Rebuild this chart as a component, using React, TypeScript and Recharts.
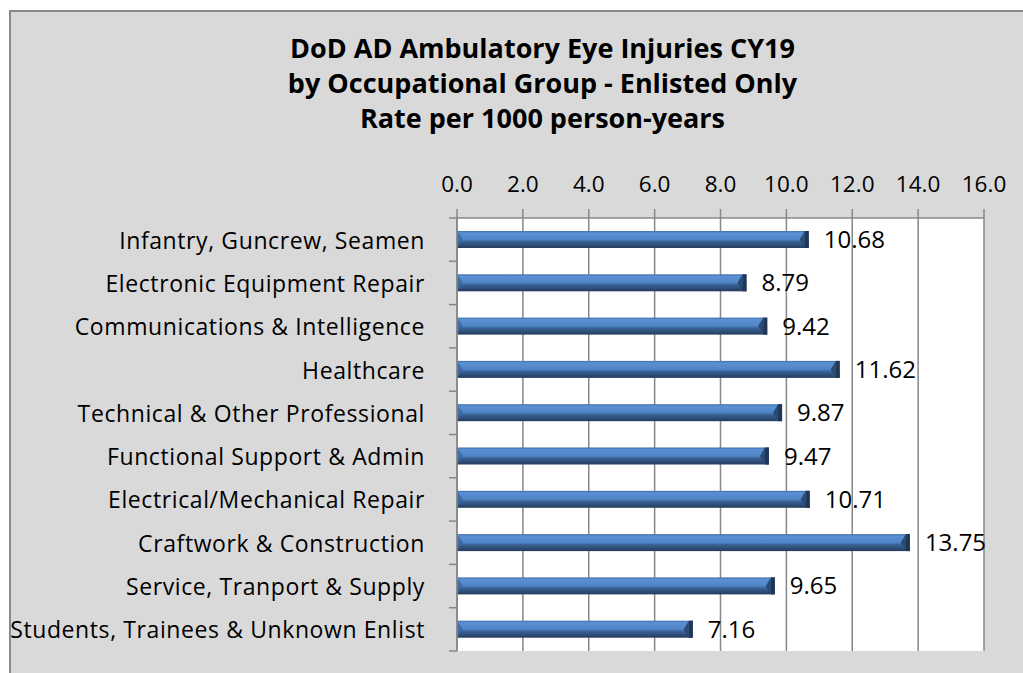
import React from 'react';
import { BarChart, Bar, XAxis, YAxis, CartesianGrid, LabelList } from 'recharts';

const categories = [
  'Infantry, Guncrew, Seamen',
  'Electronic Equipment Repair',
  'Communications & Intelligence',
  'Healthcare',
  'Technical & Other Professional',
  'Functional Support & Admin',
  'Electrical/Mechanical Repair',
  'Craftwork & Construction',
  'Service, Tranport & Supply',
  'Students, Trainees & Unknown Enlist',
];
const rates = [10.68, 8.79, 9.42, 11.62, 9.87, 9.47, 10.71, 13.75, 9.65, 7.16];
const xTicks = [0, 2, 4, 6, 8, 10, 12, 14, 16];
const titleLines = [
  'DoD AD Ambulatory Eye Injuries CY19',
  'by Occupational Group - Enlisted Only',
  'Rate per 1000 person-years',
];

const data = categories.map((name, i) => ({ name, value: rates[i] }));

const FONT = '"Open Sans", Lato, sans-serif';
const GRID = '#878787';
const TICK_SIZE = 8;
const TICK_MARGIN = 24;

const CatTick = (props: any) => {
  const { x, y, payload, index } = props;
  const half = payload && typeof payload.offset === 'number' && payload.offset > 0 ? payload.offset : 21.65;
  const ax = x + TICK_SIZE + TICK_MARGIN;
  const last = index === categories.length - 1;
  return (
    <g>
      <text
        x={x}
        y={y}
        textAnchor="end"
        dominantBaseline="central"
        fontSize={23}
        letterSpacing={0.6}
        fontFamily={FONT}
        fill="#000"
      >
        {payload.value}
      </text>
      <line x1={ax - TICK_SIZE} x2={ax} y1={y - half} y2={y - half} stroke={GRID} strokeWidth={1.5} />
      {last && <line x1={ax - TICK_SIZE} x2={ax} y1={y + half} y2={y + half} stroke={GRID} strokeWidth={1.5} />}
    </g>
  );
};

const BevelBar = (props: any) => {
  const { x, y, width, height } = props;
  if (!width || width <= 0) return null;
  const cap = 4;
  return (
    <g>
      <defs>
        <linearGradient id="barGrad" x1="0" y1="0" x2="0" y2="1">
          <stop offset="0" stopColor="#3f6ea8" />
          <stop offset="0.12" stopColor="#5b90d4" />
          <stop offset="0.5" stopColor="#4f84c6" />
          <stop offset="0.62" stopColor="#3a6296" />
          <stop offset="1" stopColor="#233d5e" />
        </linearGradient>
      </defs>
      <rect x={x} y={y} width={width} height={height} fill="url(#barGrad)" />
      <polygon points={`${x},${y} ${x + 6},${y + height / 2} ${x},${y + height}`} fill="#3d679c" opacity={0.8} />
      <rect x={x + width - cap} y={y} width={cap} height={height} fill="#1f3656" />
      <polygon
        points={`${x + width - cap},${y} ${x + width - cap - 5},${y + height / 2} ${x + width - cap},${y + height}`}
        fill="#2b4a73"
      />
    </g>
  );
};

export default function App() {
  return (
    <div style={{ position: 'absolute', left: 0, top: 0, width: 1023, height: 673, background: '#fff', overflow: 'hidden' }}>
      <div
        style={{
          position: 'absolute',
          left: 9,
          top: 10,
          width: 1030,
          height: 680,
          background: '#d9d9d9',
          borderLeft: '2px solid #8a8a8a',
          borderTop: '2px solid #8a8a8a',
          boxSizing: 'border-box',
        }}
      />
      <div
        style={{
          position: 'absolute',
          left: 0,
          top: 30,
          width: 1085,
          textAlign: 'center',
          fontFamily: FONT,
          fontWeight: 700,
          fontSize: 27,
          lineHeight: '35px',
          color: '#000',
        }}
      >
        {titleLines.map((t) => (
          <div key={t}>{t}</div>
        ))}
      </div>
      <div style={{ position: 'absolute', left: 0, top: 0 }}>
        <BarChart
          width={1023}
          height={673}
          data={data}
          layout="vertical"
          margin={{ top: 168, right: 39, bottom: 22, left: 0 }}
          barSize={17}
        >
          <CartesianGrid horizontal={false} vertical stroke={GRID} strokeWidth={1.5} fill="#ffffff" fillOpacity={1} />
          <XAxis
            type="number"
            orientation="top"
            domain={[0, 16]}
            ticks={xTicks}
            interval={0}
            height={50}
            tickFormatter={(v: number) => v.toFixed(1)}
            axisLine={{ stroke: GRID, strokeWidth: 1.5 }}
            tickLine={{ stroke: GRID, strokeWidth: 1.5 }}
            tickSize={9}
            tickMargin={17}
            tick={{ fontSize: 22.5, fontFamily: FONT, fill: '#000' }}
          />
          <YAxis
            type="category"
            dataKey="name"
            width={457}
            interval={0}
            axisLine={{ stroke: GRID, strokeWidth: 1.5 }}
            tickLine={false}
            tickSize={TICK_SIZE}
            tickMargin={TICK_MARGIN}
            tick={<CatTick />}
          />
          <Bar dataKey="value" isAnimationActive={false} shape={<BevelBar />}>
            <LabelList
              dataKey="value"
              position="right"
              offset={15}
              formatter={(v: any) => Number(v).toFixed(2)}
              style={{ fontSize: 24, fontFamily: FONT, fill: '#000' }}
            />
          </Bar>
        </BarChart>
      </div>
    </div>
  );
}
